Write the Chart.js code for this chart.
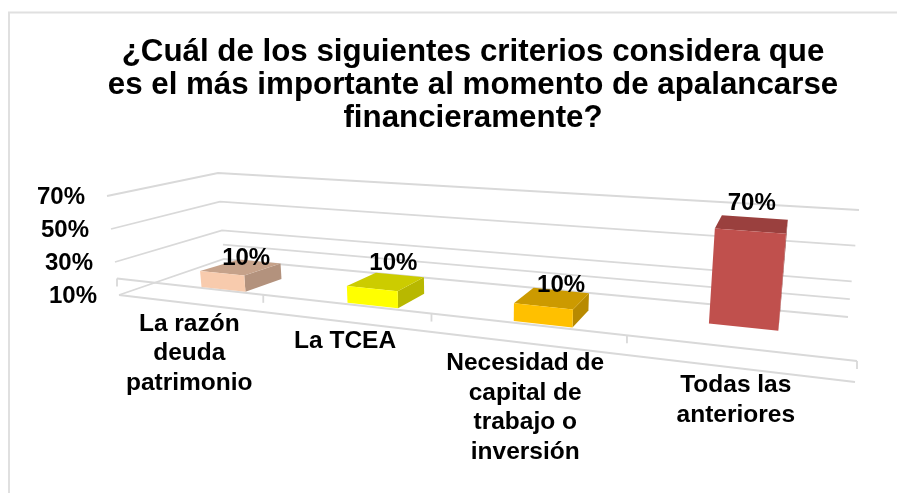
<!DOCTYPE html>
<html><head><meta charset="utf-8">
<style>html,body{margin:0;padding:0;background:#fff}#wrap{width:897px;height:493px}canvas{display:block}</style>
<script src="https://cdn.jsdelivr.net/npm/chart.js@4"></script>
</head><body><div id="wrap"><canvas id="c" width="897" height="493"></canvas></div>
<script>
const titleLines = ["¿Cuál de los siguientes criterios considera que","es el más importante al momento de apalancarse","financieramente?"];
const categories = [["La razón","deuda","patrimonio"],["La TCEA"],["Necesidad de","capital de","trabajo o","inversión"],["Todas las","anteriores"]];
const values = [10,10,10,70];
const barColors = ["#F8CBAD","#FFFF00","#FFC000","#C0504D"];
const extraGridLevel = 20;

// Perspective frame of the 3-D box: corners at axis level 10 and level 70
const FRAME = {FL:[[119,295],[107,196]],BL:[[224,259],[218,173]],BR:[[848,317],[859,210]],FR:[[855,382],[867,256]]};
const PERSPECTIVE = 0.739, DEPTH_FRONT = 0.36, DEPTH_BACK = 0.68, BACK_SKEW = 7, FRONT_SKEW = 2;
const BASE_LEVEL = [10,10,10,20];
const LABEL_NUDGE = [[3,6],[6,-3],[7,2],[-4,-6]];
const CATEGORY_NUDGE = [[0,0],[0,-1],[0,0],[0,-3]];
const lerp=(a,b,k)=>a+(b-a)*k;
function corner(c,L){const k=(L-10)/60;return [lerp(c[0][0],c[1][0],k),lerp(c[0][1],c[1][1],k)];}
function warp(t){return PERSPECTIVE*t/(1+(PERSPECTIVE-1)*t);}
function P(t,d,L){
  const u=warp(t),fl=corner(FRAME.FL,L),fr=corner(FRAME.FR,L),bl=corner(FRAME.BL,L),br=corner(FRAME.BR,L);
  const f=[lerp(fl[0],fr[0],u),lerp(fl[1],fr[1],u)],b=[lerp(bl[0],br[0],u),lerp(bl[1],br[1],u)];
  return [lerp(f[0],b[0],d),lerp(f[1],b[1],d)];
}
function Pf(t,L){const p=P(t,DEPTH_FRONT,L);return [p[0]+FRONT_SKEW*(t>0.2?1:0),p[1]];}
function Pb(t,L){const p=P(t,DEPTH_BACK,L);return [p[0]+BACK_SKEW*(1-Math.pow(t,4)),p[1]];}
function shade(hex,k){const n=parseInt(hex.slice(1),16);return `rgb(${Math.round((n>>16&255)*k)},${Math.round((n>>8&255)*k)},${Math.round((n&255)*k)})`;}
function poly(ctx,pts,fill){ctx.beginPath();pts.forEach((p,i)=>i?ctx.lineTo(p[0],p[1]):ctx.moveTo(p[0],p[1]));ctx.closePath();ctx.fillStyle=fill;ctx.fill();}
function path(ctx,pts){ctx.beginPath();pts.forEach((p,i)=>i?ctx.lineTo(p[0],p[1]):ctx.moveTo(p[0],p[1]));ctx.stroke();}
const topLevel=v=>20+(v-10)*5/6;
let active=null;

Chart.BarElement.prototype.draw=function(ctx){
  const chart=active,a=chart.chartArea,y=chart.scales.y,i=chart.getDatasetMeta(0).data.indexOf(this);
  const tc=(this.x-a.left)/a.width,hw=this.width/2/a.width,t0=tc-hw,t1=tc+hw;
  const top=topLevel(y.getValueForPixel(this.y)),base=BASE_LEVEL[i],col=this.options.backgroundColor;
  poly(ctx,[Pf(t1,base),Pb(t1,base),Pb(t1,top),Pf(t1,top)],shade(col,0.72));
  poly(ctx,[Pf(t0,top),Pf(t1,top),Pb(t1,top),Pb(t0,top)],shade(col,0.8));
  poly(ctx,[Pf(t0,base),Pf(t1,base),Pf(t1,top),Pf(t0,top)],col);
};

const frame3d={
  id:'frame3d',
  beforeInit(chart){active=chart;},
  beforeDraw(chart){
    const c=chart.ctx;c.save();c.fillStyle='#fff';c.fillRect(0,0,chart.width,chart.height);
    c.strokeStyle='#e0e0e0';c.lineWidth=2;
    c.beginPath();c.moveTo(9,493);c.lineTo(9,12.5);c.lineTo(897,12.5);c.stroke();c.restore();
  },
  beforeDatasetsDraw(chart){
    const c=chart.ctx,y=chart.scales.y,x=chart.scales.x,a=chart.chartArea;c.save();
    c.strokeStyle='#d9d9d9';c.lineWidth=1.8;
    y.ticks.forEach(tk=>path(c,[P(0,0,tk.value),P(0,1,tk.value),P(1,1,tk.value)]));
    path(c,[P(0,1,extraGridLevel),P(1,1,extraGridLevel)]);
    path(c,[P(0,0,y.min),P(1,0,y.min)]);
    path(c,[P(0,0,extraGridLevel),P(1,0,extraGridLevel)]);
    const step=a.width/x.ticks.length;
    for(let k=0;k<=x.ticks.length;k++){const p=P(k*step/a.width,0,extraGridLevel);path(c,[p,[p[0],p[1]+8]]);}
    c.restore();
  },
  afterDatasetsDraw(chart){
    const c=chart.ctx,y=chart.scales.y,x=chart.scales.x,a=chart.chartArea,meta=chart.getDatasetMeta(0);
    c.save();c.fillStyle='#000';c.font='bold 24px "Liberation Sans", Arial, sans-serif';c.textBaseline='middle';
    c.textAlign='right';
    y.ticks.forEach(tk=>{const p=P(0,0,tk.value);c.fillText(tk.label,p[0]-22,p[1]+1);});
    c.textAlign='center';
    meta.data.forEach((el,i)=>{
      const tc=(el.x-a.left)/a.width,top=topLevel(y.getValueForPixel(el.y)),p=P(tc,(DEPTH_FRONT+DEPTH_BACK)/2,top);
      c.fillText(values[i]+'%',p[0]+6+LABEL_NUDGE[i][0],p[1]-15+LABEL_NUDGE[i][1]);
    });
    c.font='bold 24.5px "Liberation Sans", Arial, sans-serif';
    categories.forEach((lines,i)=>{
      const p=P((x.getPixelForValue(i)-a.left)/a.width,0,y.min);
      lines.forEach((s,j)=>c.fillText(s,p[0]+CATEGORY_NUDGE[i][0],p[1]+20.5+CATEGORY_NUDGE[i][1]+j*29.6));
    });
    c.restore();
  }
};

new Chart(document.getElementById('c'),{
  type:'bar',
  data:{labels:categories,datasets:[{label:'Respuestas',data:values,backgroundColor:barColors,categoryPercentage:1,barPercentage:0.32,clip:false}]},
  plugins:[frame3d],
  options:{
    responsive:false,animation:false,
    layout:{padding:{left:90,right:41,top:36,bottom:199}},
    plugins:{legend:{display:false},tooltip:{enabled:false},
      title:{display:true,text:titleLines,color:'#000',font:{family:'"Liberation Sans", Arial, sans-serif',size:31.3,weight:'bold',lineHeight:33/31.3},padding:{top:0,bottom:62}}},
    scales:{
      x:{display:true,grid:{display:false},border:{display:false},ticks:{display:false},afterFit(s){s.height=0;}},
      y:{min:10,max:70,grid:{display:false},border:{display:false},
         ticks:{stepSize:20,display:false,callback:v=>v+'%'},afterFit(s){s.width=27;}}
    }
  }
});
</script></body></html>
